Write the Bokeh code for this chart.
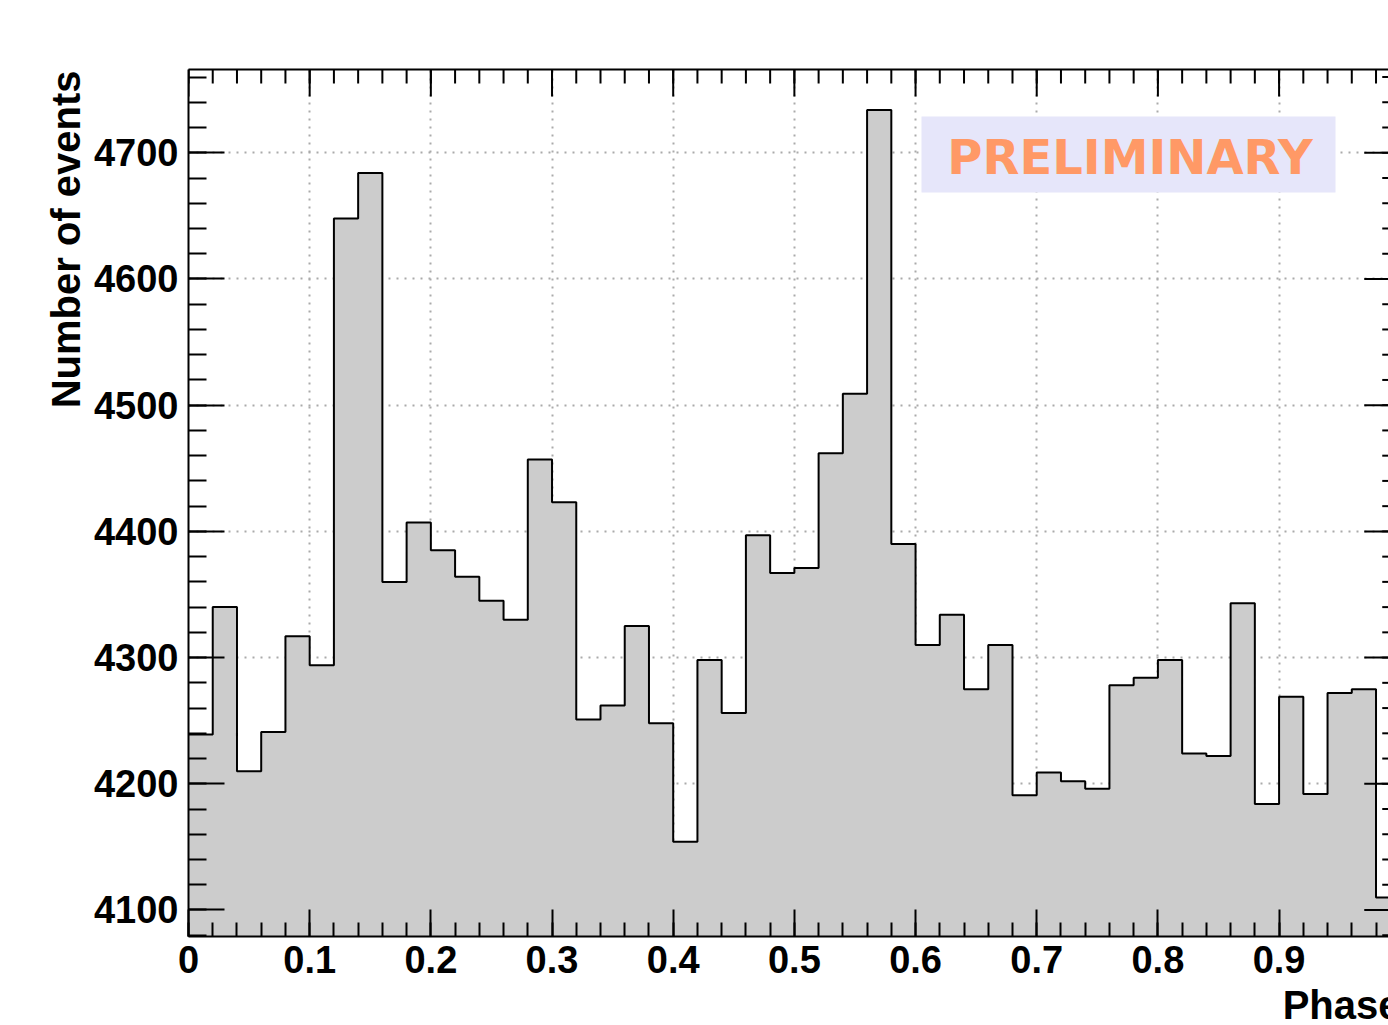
from bokeh.plotting import figure
from bokeh.models import Range1d, FixedTicker, LinearAxis, Label, BoxAnnotation, Title
from bokeh.embed import file_html
from bokeh.resources import INLINE

# ---------------- data ----------------
bin_width = 0.02
counts = [4239, 4340, 4210, 4241, 4317, 4294, 4648, 4684, 4360, 4407,
          4385, 4364, 4345, 4330, 4457, 4423, 4251, 4262, 4325, 4248,
          4154, 4298, 4256, 4397, 4367, 4371, 4462, 4509, 4734, 4390,
          4310, 4334, 4275, 4310, 4191, 4209, 4202, 4196, 4278, 4284,
          4298, 4224, 4222, 4343, 4184, 4269, 4192, 4272, 4275, 4110]
bin_left = [round(i * bin_width, 2) for i in range(len(counts))]
bin_right = [round(b + bin_width, 2) for b in bin_left]

x_ticks = [0.0, 0.1, 0.2, 0.3, 0.4, 0.5, 0.6, 0.7, 0.8, 0.9]
x_tick_labels = ["0", "0.1", "0.2", "0.3", "0.4", "0.5", "0.6", "0.7", "0.8", "0.9"]
y_ticks = [4100, 4200, 4300, 4400, 4500, 4600, 4700]
y_tick_labels = ["4100", "4200", "4300", "4400", "4500", "4600", "4700"]
x_minor = [round(i * 0.02, 2) for i in range(0, 51)]
y_minor = [4080 + 20 * i for i in range(0, 35)]

x_title = "Phase"
y_title = "Number of events"
stamp = "PRELIMINARY"

# ---------------- layout ----------------
W, H = 1388, 1025
LEFT, TOP, BOTTOM = 188, 69, 89
X_MIN, X_MAX = 0.0, 0.9903
Y_MIN, Y_MAX = 4079, 4766
px_x = (W - LEFT) / (X_MAX - X_MIN)
px_y = (H - TOP - BOTTOM) / (Y_MAX - Y_MIN)

FONT = "Liberation Sans"

p = figure(width=W, height=H, x_range=Range1d(X_MIN, X_MAX), y_range=Range1d(Y_MIN, Y_MAX),
           output_backend="svg", toolbar_location=None,
           min_border_left=LEFT, min_border_right=0, min_border_top=TOP, min_border_bottom=BOTTOM)
p.outline_line_color = None
p.background_fill_color = "white"
p.border_fill_color = "white"

xticker = FixedTicker(ticks=x_ticks, minor_ticks=x_minor)
yticker = FixedTicker(ticks=y_ticks, minor_ticks=y_minor)

# grid
p.xgrid[0].ticker = xticker
p.ygrid[0].ticker = yticker
for g in (p.xgrid[0], p.ygrid[0]):
    g.grid_line_color = "#aaaaaa"
    g.grid_line_dash = "2 6"
    g.grid_line_width = 2

# histogram
edges = bin_left + [bin_right[-1]]
tops = counts + [counts[-1]]
p.varea_step(x=edges, y1=[Y_MIN - 20] * len(edges), y2=tops, step_mode="after",
             fill_color="#cccccc")
p.step(x=edges, y=tops, mode="after", line_color="black", line_width=2)

# axes
xa = p.xaxis[0]
ya = p.yaxis[0]
xa.ticker = xticker
ya.ticker = yticker
xa.major_label_overrides = {t: l for t, l in zip(x_ticks, x_tick_labels)}
ya.major_label_overrides = {t: l for t, l in zip(y_ticks, y_tick_labels)}

for ax, big, small in ((xa, 27, 14), (ya, 36, 18)):
    ax.axis_line_width = 2
    ax.axis_line_color = "black"
    ax.major_tick_line_width = 2
    ax.minor_tick_line_width = 2
    ax.major_tick_in = big
    ax.major_tick_out = 0
    ax.minor_tick_in = small
    ax.minor_tick_out = 0
    ax.major_label_text_font = FONT
    ax.major_label_text_font_style = "bold"
    ax.major_label_text_font_size = "38px"
    ax.major_label_text_color = "black"
xa.major_label_standoff = 9
ya.major_label_standoff = 10

# top frame line (no labels)
top_axis = LinearAxis(ticker=FixedTicker(ticks=[], minor_ticks=[]), axis_line_width=2,
                      major_tick_in=0, major_tick_out=0, minor_tick_in=0, minor_tick_out=0,
                      major_label_standoff=0)
p.add_layout(top_axis, "above")

# top ticks (inside)
p.segment(x0=x_ticks, y0=[Y_MAX] * len(x_ticks), x1=x_ticks, y1=[Y_MAX - 27 / px_y] * len(x_ticks),
          line_color="black", line_width=2)
p.segment(x0=x_minor, y0=[Y_MAX] * len(x_minor), x1=x_minor, y1=[Y_MAX - 14 / px_y] * len(x_minor),
          line_color="black", line_width=2)

# right-side ticks (frame edge lies just beyond the window)
x_edge = 1.0
p.segment(x0=[x_edge] * len(y_ticks), y0=y_ticks, x1=[x_edge - 36 / px_x] * len(y_ticks), y1=y_ticks,
          line_color="black", line_width=2)
p.segment(x0=[x_edge] * len(y_minor), y0=y_minor, x1=[x_edge - 18 / px_x] * len(y_minor), y1=y_minor,
          line_color="black", line_width=2)

# axis titles (ROOT style: aligned to the axis end)
p.add_layout(Title(text=y_title, align="right", vertical_align="bottom", offset=1, standoff=6,
                   text_font=FONT, text_font_style="bold", text_font_size="40px",
                   text_color="black"), "left")
# leading empty line lets the title sit lower without enlarging the bottom border
p.add_layout(Title(text="\n" + x_title, align="right", vertical_align="top", offset=-12, standoff=-73,
                   text_font=FONT, text_font_style="bold", text_font_size="40px",
                   text_line_height=1.0, text_color="black"), "below")

# preliminary stamp
p.add_layout(BoxAnnotation(left=(921 - LEFT) / px_x, right=(1335 - LEFT) / px_x,
                           bottom=Y_MAX - (192 - TOP) / px_y, top=Y_MAX - (116 - TOP) / px_y,
                           fill_color="#e6e6fa", fill_alpha=1.0, line_color=None))
p.add_layout(Label(x=(1129.5 - LEFT) / px_x, y=Y_MAX - (156 - TOP) / px_y, text=stamp,
                   text_align="center", text_baseline="alphabetic",
                   text_font="DejaVu Sans", text_font_style="bold", text_font_size="48px",
                   text_color="#ff9966"))

open("out.html", "w").write(file_html(p, INLINE))
